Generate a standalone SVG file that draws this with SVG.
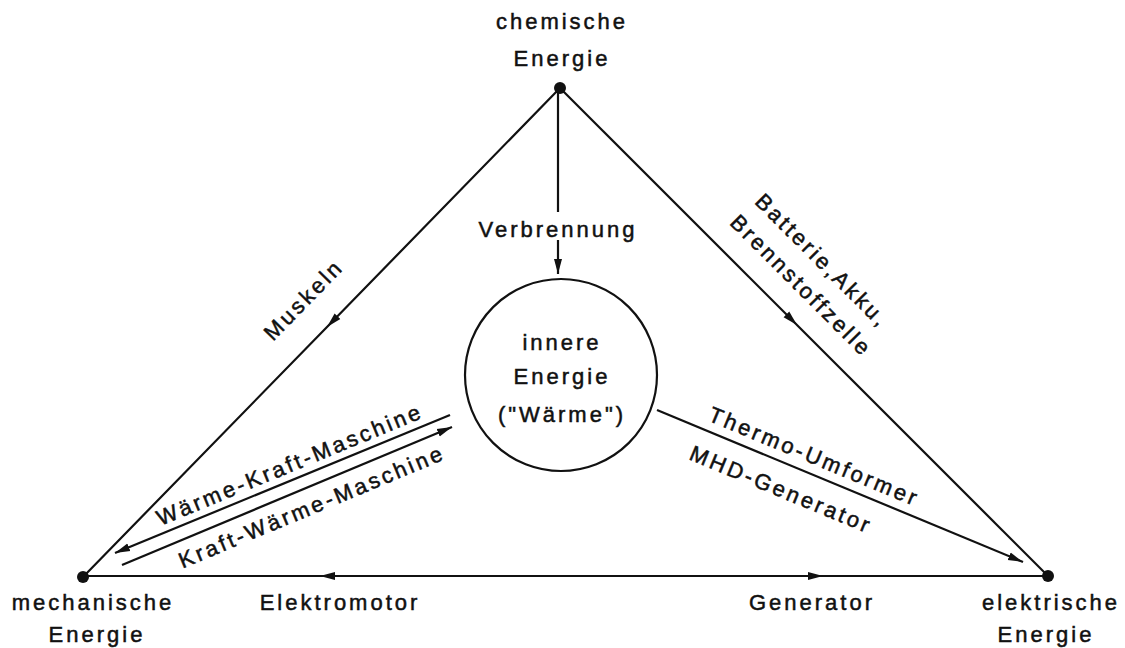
<svg xmlns="http://www.w3.org/2000/svg" width="1125" height="648" viewBox="0 0 1125 648">
<style>
text{font-family:"Liberation Sans",Arial,sans-serif;font-size:22px;letter-spacing:3px;fill:#111;stroke:#111;stroke-width:0.5px;text-anchor:middle}
.ln{fill:none;stroke:#111;stroke-width:2.2}
.dot{fill:#111}
</style>
<defs>
<marker id="ah" markerUnits="userSpaceOnUse" markerWidth="16" markerHeight="10" refX="15" refY="5" orient="auto">
<path d="M0,1 L15,5 L0,9 z" fill="#111"/>
</marker>
</defs>
<rect width="1125" height="648" fill="#fff"/>
<g id="connectors">
<path class="ln" d="M560,88 L327,327 L83,577" marker-mid="url(#ah)"/>
<path class="ln" d="M560,88 L797,325 L1048,576" marker-mid="url(#ah)"/>
<path class="ln" d="M1048,576 L320,576 L83,576" marker-mid="url(#ah)"/>
<path class="ln" d="M83,576 L823,576 L1048,576" marker-mid="url(#ah)"/>
<path class="ln" d="M558,90 L558,212"/>
<path class="ln" d="M558,240 L558,274" marker-end="url(#ah)"/>
<path class="ln" d="M450,415 L115,553" marker-end="url(#ah)"/>
<path class="ln" d="M122,565 L452,427" marker-end="url(#ah)"/>
<path class="ln" d="M657,410 L1023,562" marker-end="url(#ah)"/>
<text x="558" y="237">Verbrennung</text>
<text transform="translate(304,300) rotate(-45.7)" y="7">Muskeln</text>
<text transform="translate(822,261) rotate(45)" y="7">Batterie,Akku,</text>
<text transform="translate(801,286) rotate(45)" y="7">Brennstoffzelle</text>
<text transform="translate(290,465) rotate(-22.4)" y="7">Wärme-Kraft-Maschine</text>
<text transform="translate(312,507) rotate(-22.6)" y="7">Kraft-Wärme-Maschine</text>
<text transform="translate(814,457) rotate(22.5)" y="7">Thermo-Umformer</text>
<text transform="translate(781,490) rotate(22.5)" y="7">MHD-Generator</text>
<text x="340" y="610">Elektromotor</text>
<text x="812" y="610">Generator</text>
</g>
<g id="chemisch">
<circle class="dot" cx="560" cy="88" r="6"/>
<text x="562" y="29">chemische</text>
<text x="562" y="66">Energie</text>
</g>
<g id="mechanisch">
<circle class="dot" cx="83" cy="577" r="6"/>
<text x="93" y="610">mechanische</text>
<text x="97" y="642">Energie</text>
</g>
<g id="elektrisch">
<circle class="dot" cx="1048" cy="576" r="6"/>
<text x="1051" y="610">elektrische</text>
<text x="1046" y="642">Energie</text>
</g>
<g id="innere">
<circle class="ln" cx="561" cy="375" r="96"/>
<text x="562" y="350">innere</text>
<text x="562" y="384">Energie</text>
<text x="562" y="422">("Wärme")</text>
</g>
</svg>
